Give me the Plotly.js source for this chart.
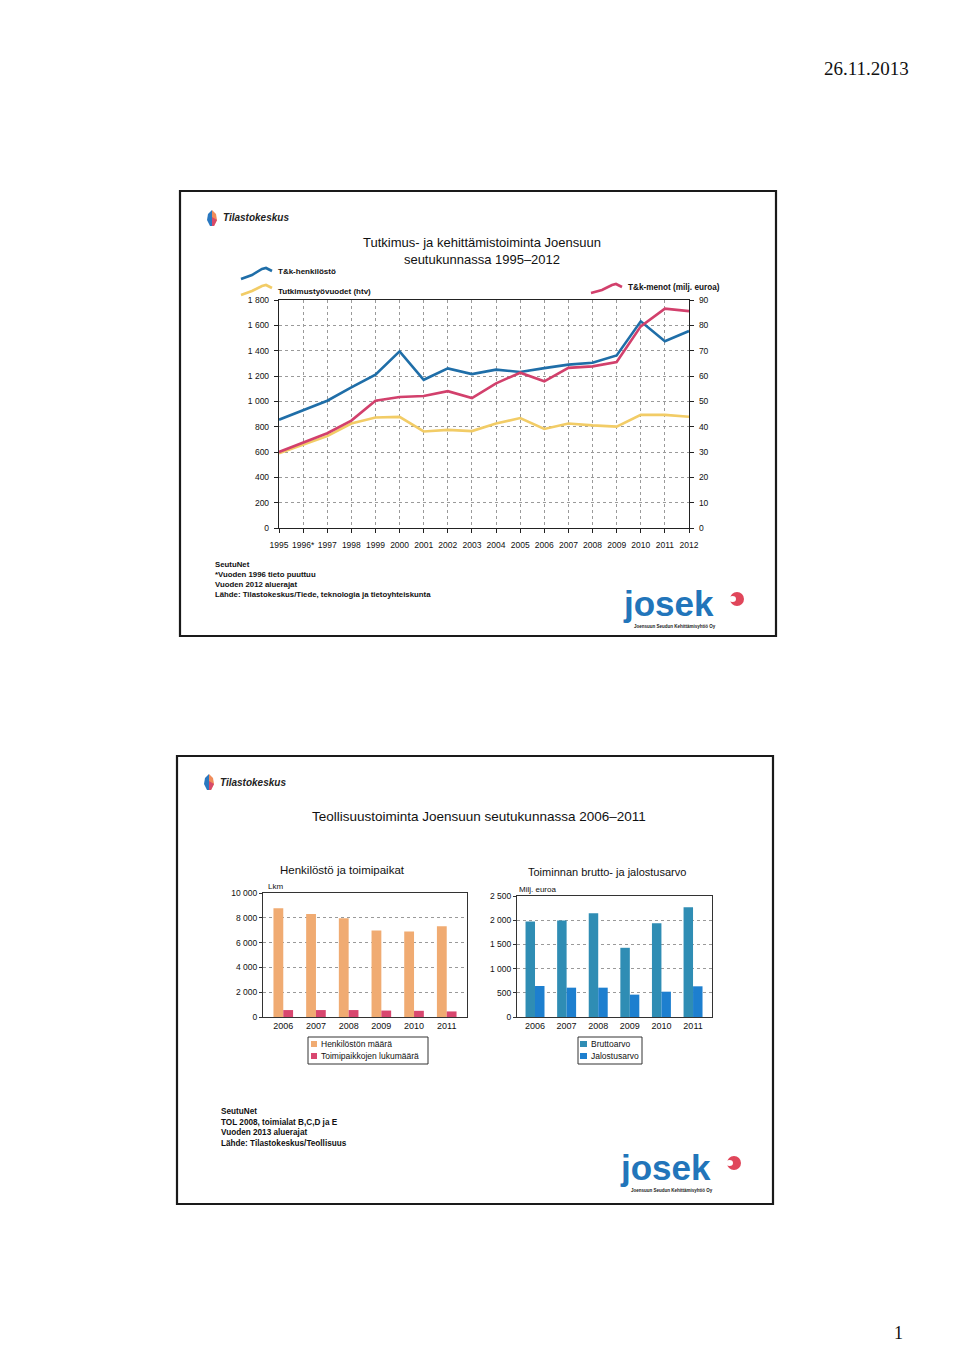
<!DOCTYPE html>
<html>
<head>
<meta charset="utf-8">
<script src="https://cdn.plot.ly/plotly-3.0.1.min.js"></script>
<style>
html,body{margin:0;padding:0;background:#fff;}
#page{width:960px;height:1347px;}
</style>
</head>
<body>
<div id="page"></div>
<script>
// ---------- data: top chart ----------
const years = [1995,1996,1997,1998,1999,2000,2001,2002,2003,2004,2005,2006,2007,2008,2009,2010,2011,2012];
const yearLabels = ["1995","1996*","1997","1998","1999","2000","2001","2002","2003","2004","2005","2006","2007","2008","2009","2010","2011","2012"];
const henkilosto = [855,null,1005,1110,1210,1395,1170,1260,1215,1250,1232,1262,1290,1305,1362,1632,1475,1555];
const tutkimustyovuodet = [590,null,725,825,872,877,762,775,765,825,868,782,825,810,800,893,893,878];
const menot = [30,null,37.4,42.4,50.2,51.7,52.1,54,51.3,57.1,61.3,57.9,63.2,63.8,65.5,79.6,86.6,85.6];

// ---------- data: bottom charts ----------
const barYears = ["2006","2007","2008","2009","2010","2011"];
const henkiloston = [8780,8300,7970,6970,6890,7320];
const toimipaikat = [560,560,560,520,500,450];
const bruttoarvo = [1975,1995,2145,1430,1935,2265];
const jalostusarvo = [640,606,606,462,523,634];

const W = 960, H = 1347;
const px = x => x / W;
const py = y => 1 - y / H;
const FONT = "Liberation Sans, Arial, sans-serif";

const C_BLUE = '#1f6ea8', C_YEL = '#f2cc66', C_RED = '#d2406c';
const C_OR = '#f0ab72', C_PINK = '#d8476f', C_TEAL = '#2f8db4', C_BLU2 = '#1d7fcf';

function pathFromPts(pts){
  return pts.map((p,i)=>(i? 'L':'M') + px(p[0]).toFixed(5) + ',' + py(p[1]).toFixed(5)).join(' ');
}

const traces = [
  {x: years, y: henkilosto, type:'scatter', mode:'lines', name:'T&k-henkilöstö', connectgaps:true,
   line:{color:C_BLUE, width:2.6}, xaxis:'x', yaxis:'y', showlegend:false},
  {x: years, y: tutkimustyovuodet, type:'scatter', mode:'lines', name:'Tutkimustyövuodet (htv)', connectgaps:true,
   line:{color:C_YEL, width:2.6}, xaxis:'x', yaxis:'y', showlegend:false},
  {x: years, y: menot, type:'scatter', mode:'lines', name:'T&k-menot (milj. euroa)', connectgaps:true,
   line:{color:C_RED, width:2.6}, xaxis:'x', yaxis:'y2', showlegend:false},

  {x: barYears, y: henkiloston, type:'bar', name:'Henkilöstön määrä', marker:{color:C_OR},
   xaxis:'x3', yaxis:'y3', showlegend:false},
  {x: barYears, y: toimipaikat, type:'bar', name:'Toimipaikkojen lukumäärä', marker:{color:C_PINK},
   xaxis:'x3', yaxis:'y3', showlegend:false},

  {x: barYears, y: bruttoarvo, type:'bar', name:'Bruttoarvo', marker:{color:C_TEAL},
   xaxis:'x4', yaxis:'y4', showlegend:false},
  {x: barYears, y: jalostusarvo, type:'bar', name:'Jalostusarvo', marker:{color:C_BLU2},
   xaxis:'x4', yaxis:'y4', showlegend:false}
];

const tickFont = {family: FONT, size: 8.5, color:'#111'};
const gridCommon = {gridcolor:'#9a9a9a', griddash:'dot', gridwidth:1};

const shapes = [];
function rectPx(x0,y0,x1,y1,opts){
  shapes.push(Object.assign({type:'rect', xref:'paper', yref:'paper', x0:px(x0), x1:px(x1), y0:py(y1), y1:py(y0)}, opts));
}
// slide frames
rectPx(180,191,776,636,{line:{color:'#1a1a1a', width:2.2}});
rectPx(177,756,773,1204,{line:{color:'#1a1a1a', width:2.2}});
// top legend wave icons
shapes.push({type:'path', xref:'paper', yref:'paper', path: pathFromPts([[241,279],[252,275],[262,269],[266,268],[272,271]]),
  line:{color:C_BLUE, width:2.6}});
shapes.push({type:'path', xref:'paper', yref:'paper', path: pathFromPts([[241,295],[252,291],[262,286],[266,285],[272,288]]),
  line:{color:C_YEL, width:2.6}});
shapes.push({type:'path', xref:'paper', yref:'paper', path: pathFromPts([[591,293],[602,290],[612,285],[616,284],[622,287]]),
  line:{color:C_RED, width:2.6}});
// bottom legends (boxes + swatches)
rectPx(308,1037,428,1064,{line:{color:'#333', width:1}, fillcolor:'#fff'});
rectPx(311,1041,317,1047,{line:{width:0}, fillcolor:C_OR});
rectPx(311,1053,317,1059,{line:{width:0}, fillcolor:C_PINK});
rectPx(578,1037,642,1064,{line:{color:'#333', width:1}, fillcolor:'#fff'});
rectPx(580,1041,587,1047,{line:{width:0}, fillcolor:C_TEAL});
rectPx(580,1053,587,1059,{line:{width:0}, fillcolor:C_BLU2});
// Tilastokeskus logo marks
function leaf(cx, cy){
  shapes.push({type:'path', xref:'paper', yref:'paper',
    path: pathFromPts([[cx,cy-8],[cx-4,cy-4],[cx-5,cy+2],[cx-2,cy+8],[cx,cy+8]]) + ' Z',
    fillcolor:'#2a78c0', line:{width:0}});
  shapes.push({type:'path', xref:'paper', yref:'paper',
    path: pathFromPts([[cx,cy-8],[cx+4,cy-4],[cx+5,cy+2],[cx+2,cy+8],[cx,cy+8]]) + ' Z',
    fillcolor:'#f08c5a', line:{width:0}});
  shapes.push({type:'path', xref:'paper', yref:'paper',
    path: pathFromPts([[cx,cy-1],[cx+5,cy+2],[cx+2,cy+8],[cx,cy+8]]) + ' Z',
    fillcolor:'#d84a6a', line:{width:0}});
}
leaf(212, 218);
leaf(209, 782);
// josek swirl marks
function swirl(cx, cy){
  shapes.push({type:'circle', xref:'paper', yref:'paper', x0:px(cx-7), x1:px(cx+7), y0:py(cy+7), y1:py(cy-7),
    fillcolor:'#e0465a', line:{width:0}});
  shapes.push({type:'circle', xref:'paper', yref:'paper', x0:px(cx-8), x1:px(cx-1), y0:py(cy+3), y1:py(cy-3),
    fillcolor:'#ffffff', line:{width:0}});
}
swirl(737, 599);
swirl(734, 1163);

const ann = [];
function txt(x, y, text, opts){
  ann.push(Object.assign({xref:'paper', yref:'paper', x:px(x), y:py(y), text:text, showarrow:false,
    xanchor:'left', yanchor:'middle', font:{family:FONT, size:8, color:'#111'}}, opts||{}));
}
// page texts
txt(866, 69, '26.11.2013', {xanchor:'center', font:{family:'Liberation Serif, Times New Roman, serif', size:19, color:'#111'}});
txt(898, 1333, '1', {xanchor:'center', font:{family:'Liberation Serif, Times New Roman, serif', size:18, color:'#111'}});

const logoFont = {family:FONT, size:10, color:'#222'};
// slide 1
txt(221, 218, '<b><i>Tilastokeskus</i></b>', {font:logoFont});
txt(482, 251, 'Tutkimus- ja kehittämistoiminta Joensuun<br>seutukunnassa 1995–2012', {xanchor:'center', font:{family:FONT, size:13, color:'#111'}});
txt(276, 271, '<b>T&k-henkilöstö</b>', {font:{family:FONT, size:8, color:'#111'}});
txt(276, 292, '<b>Tutkimustyövuodet (htv)</b>', {font:{family:FONT, size:8, color:'#111'}});
txt(626, 287, '<b>T&k-menot (milj. euroa)</b>', {font:{family:FONT, size:8.2, color:'#111'}});
txt(213, 579, '<b>SeutuNet<br>*Vuoden 1996 tieto puuttuu<br>Vuoden 2012 aluerajat<br>Lähde: Tilastokeskus/Tiede, teknologia ja tietoyhteiskunta</b>',
  {align:'left', font:{family:FONT, size:7.8, color:'#111'}});
txt(621, 603, '<b>josek</b>', {font:{family:FONT, size:35, color:'#2275ba'}});
txt(632, 626, '<b>Joensuun Seudun Kehittämisyhtiö Oy</b>', {font:{family:FONT, size:4.5, color:'#222'}});

// slide 2
txt(218, 782, '<b><i>Tilastokeskus</i></b>', {font:logoFont});
txt(479, 816, 'Teollisuustoiminta Joensuun seutukunnassa 2006–2011', {xanchor:'center', font:{family:FONT, size:13.5, color:'#111'}});
txt(342, 870, 'Henkilöstö ja toimipaikat', {xanchor:'center', font:{family:FONT, size:11.5, color:'#111'}});
txt(607, 872, 'Toiminnan brutto- ja jalostusarvo', {xanchor:'center', font:{family:FONT, size:11, color:'#111'}});
txt(266, 886, 'Lkm', {font:{family:FONT, size:8, color:'#111'}});
txt(517, 889, 'Milj. euroa', {font:{family:FONT, size:8, color:'#111'}});
txt(319, 1044, 'Henkilöstön määrä', {font:{family:FONT, size:8.5, color:'#111'}});
txt(319, 1056, 'Toimipaikkojen lukumäärä', {font:{family:FONT, size:8.5, color:'#111'}});
txt(589, 1044, 'Bruttoarvo', {font:{family:FONT, size:8.5, color:'#111'}});
txt(589, 1056, 'Jalostusarvo', {font:{family:FONT, size:8.5, color:'#111'}});
txt(219, 1127, '<b>SeutuNet<br>TOL 2008, toimialat B,C,D ja E<br>Vuoden 2013 aluerajat<br>Lähde: Tilastokeskus/Teollisuus</b>',
  {align:'left', font:{family:FONT, size:8.2, color:'#111'}});
txt(618, 1167, '<b>josek</b>', {font:{family:FONT, size:35, color:'#2275ba'}});
txt(629, 1190, '<b>Joensuun Seudun Kehittämisyhtiö Oy</b>', {font:{family:FONT, size:4.5, color:'#222'}});

const layout = {
  width: W, height: H,
  margin:{l:0, r:0, t:0, b:0},
  paper_bgcolor:'#ffffff', plot_bgcolor:'rgba(0,0,0,0)',
  separators: ', ',
  font:{family:FONT, color:'#111'},
  barmode:'group',
  showlegend:false,
  xaxis:Object.assign({domain:[px(279), px(689)], anchor:'y', range:[1995,2012], tickmode:'array',
    tickvals: years, ticktext: yearLabels, ticks:'outside', ticklen:4, tickcolor:'#222',
    showline:true, linecolor:'#222', linewidth:1.2, mirror:true, showgrid:true, zeroline:false,
    tickfont:tickFont, ticklabelstandoff:5}, gridCommon),
  yaxis:Object.assign({domain:[py(528), py(300)], anchor:'x', range:[0,1800], dtick:200, tickformat:',d',
    ticks:'outside', ticklen:4, tickcolor:'#222', showline:true, linecolor:'#222', linewidth:1.2,
    showgrid:true, zeroline:false, tickfont:tickFont, ticklabelstandoff:3}, gridCommon),
  yaxis2:{overlaying:'y', side:'right', anchor:'x', range:[0,90], dtick:10, ticks:'outside', ticklen:4,
    tickcolor:'#222', showline:true, linecolor:'#222', linewidth:1.2, showgrid:false, zeroline:false,
    tickfont:tickFont, ticklabelstandoff:3},

  xaxis3:{domain:[px(263), px(467)], anchor:'y3', type:'category', range:[-0.62,5.62],
    showline:true, linecolor:'#333', linewidth:1, mirror:true, ticks:'', showgrid:false,
    tickfont:{family:FONT, size:9, color:'#111'}},
  yaxis3:Object.assign({domain:[py(1017), py(893)], anchor:'x3', range:[0,10000], dtick:2000, tickformat:',d',
    ticks:'outside', ticklen:3, tickcolor:'#333', showline:true, linecolor:'#333', linewidth:1, mirror:true,
    showgrid:true, zeroline:false, tickfont:tickFont}, gridCommon),
  bargap:0.4, bargroupgap:0,

  xaxis4:{domain:[px(517), px(712)], anchor:'y4', type:'category', range:[-0.57,5.6],
    showline:true, linecolor:'#333', linewidth:1, mirror:true, ticks:'', showgrid:false,
    tickfont:{family:FONT, size:9, color:'#111'}},
  yaxis4:Object.assign({domain:[py(1017), py(896)], anchor:'x4', range:[0,2500], dtick:500, tickformat:',d',
    ticks:'outside', ticklen:3, tickcolor:'#333', showline:true, linecolor:'#333', linewidth:1, mirror:true,
    showgrid:true, zeroline:false, tickfont:tickFont}, gridCommon),

  shapes: shapes,
  annotations: ann
};

Plotly.newPlot('page', traces, layout, {staticPlot:true, displayModeBar:false});
</script>
</body>
</html>
